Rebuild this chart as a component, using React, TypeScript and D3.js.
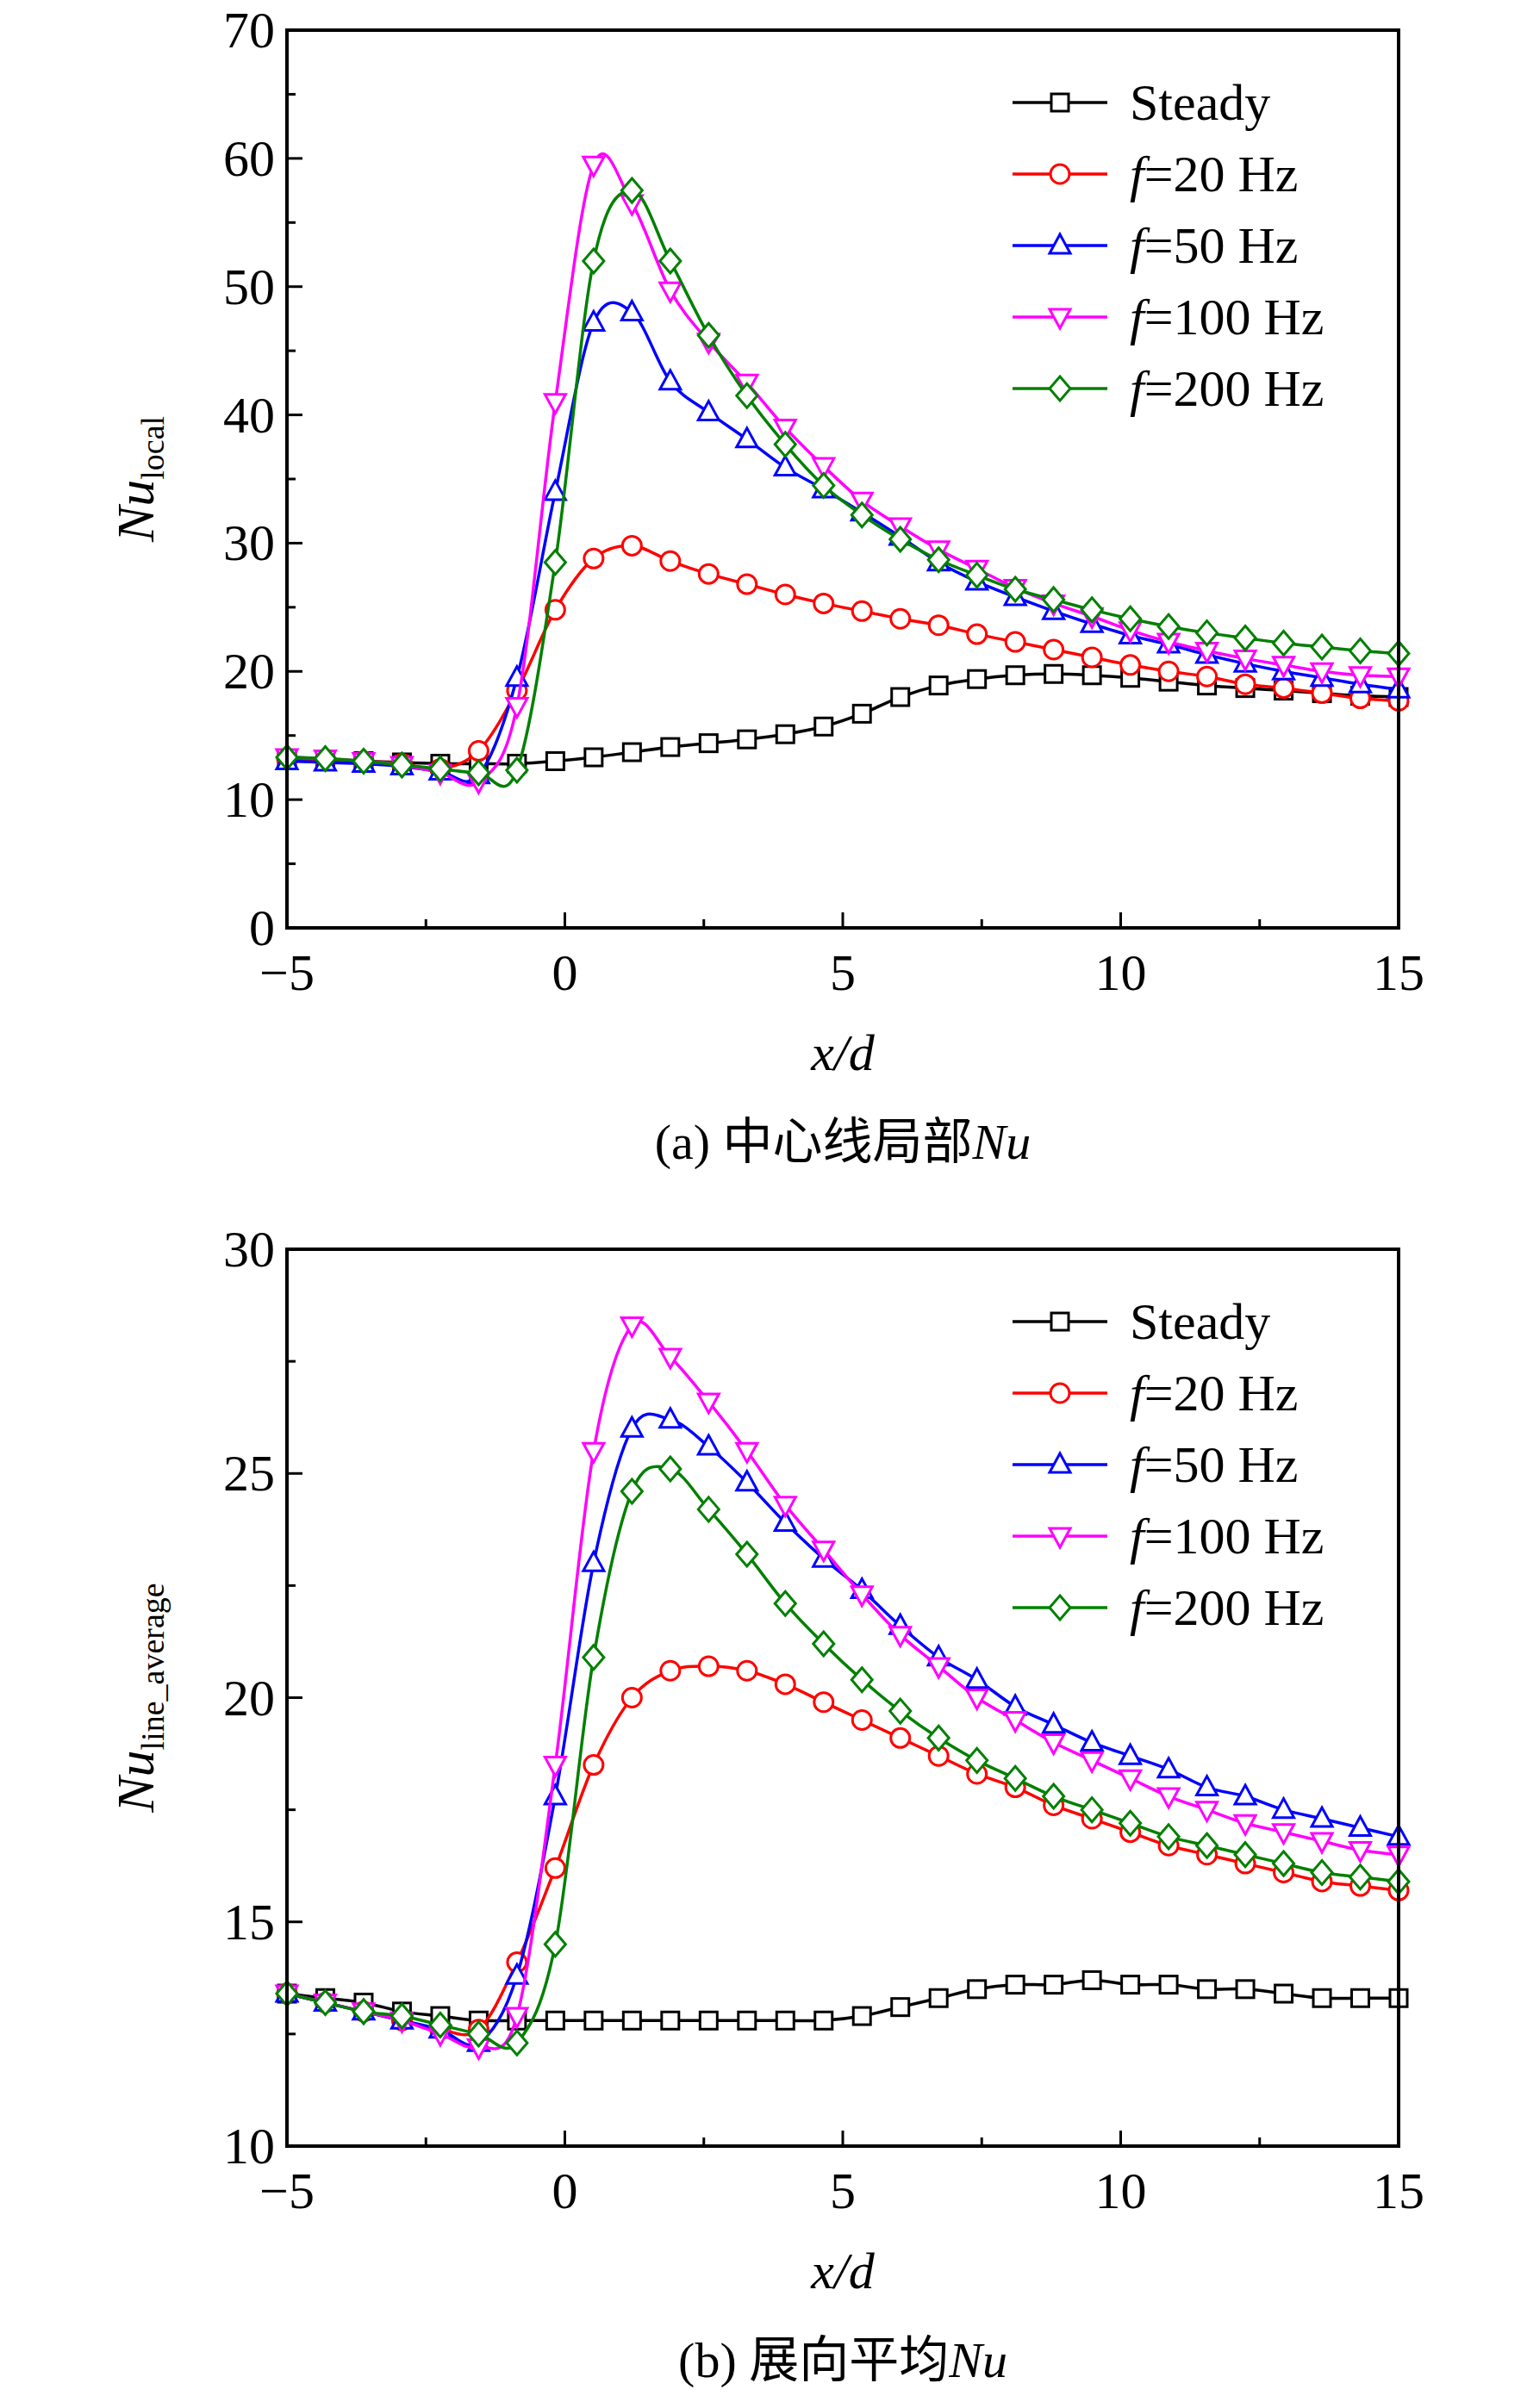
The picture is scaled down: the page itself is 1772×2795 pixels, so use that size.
import React from 'react';
import * as d3 from 'd3';

const xs = d3.range(30).map(i => -5 + (i * 20) / 29);

const seriesNames = ['Steady', 'f=20 Hz', 'f=50 Hz', 'f=100 Hz', 'f=200 Hz'];
const colors = ['#000000', '#ff0000', '#0000ff', '#ff00ff', '#008000'];
const shapes = ['square', 'circle', 'up', 'down', 'diamond'];

const localSteady = [13.2,13.1,13.0,12.9,12.8,12.8,12.8,13.0,13.3,13.7,14.1,14.4,14.7,15.1,15.7,16.7,18.0,18.9,19.4,19.7,19.8,19.7,19.5,19.2,18.9,18.7,18.5,18.3,18.1,18.0];
const local20 = [13.2,13.1,13.0,12.8,12.4,13.8,18.5,24.8,28.8,29.8,28.6,27.6,26.8,26.0,25.3,24.7,24.1,23.6,22.9,22.3,21.7,21.1,20.5,20.0,19.6,19.0,18.7,18.3,17.9,17.7];
const local50 = [13.0,12.9,12.8,12.6,12.2,11.9,19.5,34.0,47.2,48.0,42.6,40.2,38.1,35.9,34.2,32.4,30.5,28.5,27.0,25.8,24.7,23.7,22.8,22.1,21.3,20.6,20.0,19.5,19.0,18.6];
const local100 = [13.3,13.2,13.0,12.7,12.1,11.4,17.3,41.0,59.5,56.5,49.7,45.7,42.5,39.0,36.0,33.3,31.3,29.5,28.0,26.5,25.3,24.3,23.2,22.3,21.6,21.0,20.5,20.0,19.7,19.6];
const local200 = [13.3,13.2,13.0,12.7,12.4,12.1,12.3,28.5,52.0,57.5,52.0,46.2,41.5,37.7,34.5,32.2,30.3,28.7,27.5,26.4,25.6,24.8,24.1,23.5,23.0,22.6,22.2,21.9,21.6,21.4];

const avgSteady = [13.4,13.3,13.2,13.0,12.9,12.8,12.8,12.8,12.8,12.8,12.8,12.8,12.8,12.8,12.8,12.9,13.1,13.3,13.5,13.6,13.6,13.7,13.6,13.6,13.5,13.5,13.4,13.3,13.3,13.3];
const avg20 = [13.4,13.2,13.0,12.8,12.6,12.6,14.1,16.2,18.5,20.0,20.6,20.7,20.6,20.3,19.9,19.5,19.1,18.7,18.3,18.0,17.6,17.3,17.0,16.7,16.5,16.3,16.1,15.9,15.8,15.7];
const avg50 = [13.4,13.2,13.0,12.8,12.6,12.3,13.8,17.8,23.0,26.0,26.2,25.6,24.8,23.9,23.1,22.4,21.6,20.9,20.4,19.8,19.4,19.0,18.7,18.4,18.0,17.8,17.5,17.3,17.1,16.9];
const avg100 = [13.4,13.2,13.0,12.8,12.5,12.2,12.9,18.5,25.5,28.3,27.6,26.6,25.5,24.3,23.3,22.3,21.4,20.7,20.0,19.5,19.0,18.6,18.2,17.8,17.5,17.2,17.0,16.8,16.6,16.5];
const avg200 = [13.4,13.2,13.0,12.9,12.7,12.5,12.3,14.5,20.9,24.6,25.1,24.2,23.2,22.1,21.2,20.4,19.7,19.1,18.6,18.2,17.8,17.5,17.2,16.9,16.7,16.5,16.3,16.1,16.0,15.9];

const xTicks = [-5, 0, 5, 10, 15];
const FONT = '"Liberation Serif", "Times New Roman", serif';
const CJK = '"Noto Sans CJK SC", sans-serif';

const L = 333, R = 1623;

function Marker({ shape, x, y, color }: { shape: string; x: number; y: number; color: string }) {
  const s = 12;
  const common = { fill: 'white', stroke: color, strokeWidth: 3 };
  if (shape === 'square') return <rect x={x - s + 2} y={y - s + 2} width={2 * s - 4} height={2 * s - 4} {...common} />;
  if (shape === 'circle') return <circle cx={x} cy={y} r={s - 1} {...common} />;
  if (shape === 'up') return <path d={`M${x},${y - s - 1}L${x + s},${y + s - 3}L${x - s},${y + s - 3}Z`} {...common} />;
  if (shape === 'down') return <path d={`M${x},${y + s + 1}L${x + s},${y - s + 3}L${x - s},${y - s + 3}Z`} {...common} />;
  return <path d={`M${x},${y - s - 2}L${x + s},${y}L${x},${y + s + 2}L${x - s},${y}Z`} {...common} />;
}

function Panel({ top, bottom, yMax, yMin, yStep, series, sub, caption, capPrefix }: any) {
  const x = d3.scaleLinear().domain([-5, 15]).range([L, R]);
  const y = d3.scaleLinear().domain([yMin, yMax]).range([bottom, top]);
  const line = d3.line<number>().x((_, i) => x(xs[i])).y(d => y(d)).curve(d3.curveCatmullRom.alpha(0));
  const yTicks = d3.range(yMin, yMax + 0.001, yStep);
  const yMinor = d3.range(yMin + yStep / 2, yMax, yStep);
  const xMinor = d3.range(-2.5, 15, 5);
  const legY = top + 84;
  return (
    <g>
      {series.map((s: number[], k: number) => (
        <g key={k}>
          <path d={line(s) as string} fill="none" stroke={colors[k]} strokeWidth={3.5} />
          {s.map((v, i) => <Marker key={i} shape={shapes[k]} x={x(xs[i])} y={y(v)} color={colors[k]} />)}
        </g>
      ))}
      <rect x={L} y={top} width={R - L} height={bottom - top} fill="none" stroke="black" strokeWidth={4} />
      {xTicks.map(t => (
        <g key={t}>
          <line x1={x(t)} x2={x(t)} y1={bottom} y2={bottom - 18} stroke="black" strokeWidth={3} />
          <text x={x(t)} y={bottom + 72} textAnchor="middle" fontFamily={FONT} fontSize={60}>{t < 0 ? '\u2212' + Math.abs(t) : t}</text>
        </g>
      ))}
      {xMinor.map(t => <line key={t} x1={x(t)} x2={x(t)} y1={bottom} y2={bottom - 10} stroke="black" strokeWidth={3} />)}
      {yTicks.map(t => (
        <g key={t}>
          <line x1={L} x2={L + 18} y1={y(t)} y2={y(t)} stroke="black" strokeWidth={3} />
          <text x={L - 14} y={y(t) + 20} textAnchor="end" fontFamily={FONT} fontSize={60}>{t}</text>
        </g>
      ))}
      {yMinor.map(t => <line key={t} x1={L} x2={L + 10} y1={y(t)} y2={y(t)} stroke="black" strokeWidth={3} />)}
      <text transform={`translate(178,${(top + bottom) / 2}) rotate(-90)`} textAnchor="middle" fontFamily={FONT} fontSize={62}>
        <tspan fontStyle="italic">Nu</tspan><tspan fontSize={38} dy={12}>{sub}</tspan>
      </text>
      <text x={(L + R) / 2} y={bottom + 165} textAnchor="middle" fontFamily={FONT} fontSize={60} fontStyle="italic">x/d</text>
      <text x={(L + R) / 2} y={bottom + 268} textAnchor="middle" fontSize={58}>
        <tspan fontFamily={FONT}>{capPrefix} </tspan><tspan fontFamily={CJK}>{caption}</tspan><tspan fontFamily={FONT} fontStyle="italic">Nu</tspan>
      </text>
      {seriesNames.map((n, k) => {
        const yy = legY + k * 83;
        return (
          <g key={n}>
            <line x1={1175} x2={1285} y1={yy} y2={yy} stroke={colors[k]} strokeWidth={3.5} />
            <Marker shape={shapes[k]} x={1230} y={yy} color={colors[k]} />
            <text x={1311} y={yy + 20} fontFamily={FONT} fontSize={60}>
              {k === 0 ? n : (<><tspan fontStyle="italic">f</tspan>{n.slice(1)}</>)}
            </text>
          </g>
        );
      })}
    </g>
  );
}

export default function App() {
  return (
    <svg width={1772} height={2795} style={{ position: 'absolute', left: 0, top: 0, background: 'white' }}>
      <rect width={1772} height={2795} fill="white" />
      <Panel top={35} bottom={1077} yMin={0} yMax={70} yStep={10}
        series={[localSteady, local20, local50, local100, local200]} sub="local" capPrefix="(a)" caption="中心线局部" />
      <Panel top={1450} bottom={2491} yMin={10} yMax={30} yStep={5}
        series={[avgSteady, avg20, avg50, avg100, avg200]} sub="line_average" capPrefix="(b)" caption="展向平均" />
    </svg>
  );
}
